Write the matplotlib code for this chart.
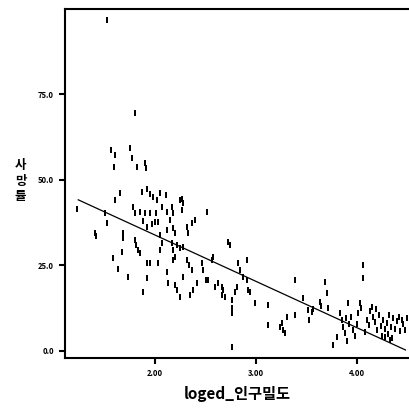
import matplotlib.pyplot as plt
import numpy as np

plt.rcParams['font.family'] = ['Noto Sans CJK KR', 'DejaVu Sans']

# --- dados ---
x_vals = [
    1.52, 1.80, 1.56, 1.60, 1.59, 1.75, 1.77, 1.82, 1.90, 1.91,
    1.65, 1.60, 1.87, 1.92, 1.95, 1.98, 2.02, 2.05, 2.11, 2.27, 2.25, 2.28, 2.27,
    1.225, 1.41, 1.42, 1.52, 1.505, 1.58, 1.63, 1.67, 1.68, 1.68, 1.73, 1.78, 1.80,
    1.81, 1.83, 1.85, 1.80, 1.85, 1.90, 1.95, 2.00, 2.03, 1.97, 1.92, 1.88, 2.01,
    2.07, 2.12, 2.17, 2.18, 2.15, 2.12, 2.18, 2.20, 2.05, 2.07, 2.05, 2.17, 2.18,
    2.22, 2.20, 2.18, 2.25, 2.28, 2.32, 2.33, 2.37, 2.40, 2.51,
    1.92, 1.95, 2.03, 1.92, 1.88, 2.12, 2.13, 2.20, 2.22, 2.25, 2.28, 2.32, 2.34,
    2.37, 2.35, 2.38, 2.42, 2.47, 2.48, 2.50, 2.52, 2.57, 2.56, 2.59, 2.62, 2.66,
    2.67, 2.66, 2.69, 2.72, 2.74, 2.76, 2.76, 2.76, 2.76, 2.81, 2.79, 2.82, 2.84,
    2.87, 2.91, 2.91, 2.92, 2.94, 2.99,
    3.12, 3.12, 3.24, 3.26, 3.27, 3.29, 3.31, 3.39, 3.39, 3.47, 3.51, 3.52, 3.55,
    3.56, 3.63, 3.64, 3.68, 3.70, 3.71, 3.76, 3.83, 3.85, 3.86, 3.88, 3.91, 3.89,
    3.92, 3.94, 3.96, 4.01, 4.03, 4.04, 4.06, 4.06, 4.15, 4.16, 4.12, 4.10, 4.08,
    4.18, 4.20, 4.22, 4.24, 4.26, 4.28, 4.28, 4.30, 4.31, 4.32, 4.34, 4.35, 4.36,
    4.38, 4.40, 4.42, 4.43, 4.45, 4.46, 4.48, 4.50, 4.33, 4.25, 4.00, 3.98, 4.13,
    4.19, 3.80, 3.90,
]
y_vals = [
    96.8, 69.6, 58.8, 57.3, 53.8, 59.4, 56.4, 53.8, 55.0, 53.5,
    46.2, 44.2, 46.5, 47.5, 46.0, 45.0, 44.2, 46.2, 45.6, 44.4, 44.2, 43.3, 41.2,
    41.4, 34.5, 33.5, 37.4, 40.3, 27.2, 24.0, 29.0, 34.5, 33.0, 21.6, 42.1, 32.5,
    31.0, 29.5, 28.6, 40.3, 40.6, 40.3, 40.3, 37.7, 37.7, 37.0, 36.3, 38.0, 40.3,
    42.1, 40.6, 42.1, 40.3, 38.3, 35.4, 36.0, 34.5, 33.9, 31.6, 29.5, 31.6, 29.5,
    31.0, 27.5, 26.6, 30.1, 30.4, 36.3, 34.5, 37.4, 38.3, 40.6,
    25.7, 25.7, 25.7, 21.3, 17.3, 23.1, 19.9, 19.3, 17.8, 15.8, 21.6, 26.6, 25.1,
    23.7, 16.4, 17.8, 19.9, 25.7, 23.7, 20.8, 20.8, 27.5, 26.5, 18.7, 19.9, 18.7,
    17.8, 16.4, 15.8, 31.9, 31.0, 14.9, 12.6, 11.2, 1.2, 18.7, 17.3, 25.7, 23.7,
    21.6, 20.8, 26.6, 17.8, 17.3, 14.0,
    13.5, 7.6, 7.0, 8.2, 6.1, 5.3, 9.9, 20.8, 10.5, 15.5, 12.0, 9.1, 11.4,
    12.2, 14.3, 13.2, 20.2, 17.0, 12.6, 1.8, 11.1, 9.1, 7.0, 5.3, 14.0, 9.5,
    8.0, 9.8, 6.2, 11.1, 14.0, 12.5, 25.1, 21.3, 12.9, 10.0, 7.5, 9.0, 5.5,
    8.5, 6.0, 10.5, 7.2, 9.0, 4.1, 6.5, 8.2, 5.0, 10.5, 7.0, 3.8, 9.5,
    6.5, 8.7, 10.0, 5.8, 9.1, 7.8, 6.1, 9.5, 3.2, 4.5, 8.0, 4.5, 11.8,
    12.3, 4.0, 3.0,
]

# reta de ajuste
fit_x = [1.24, 4.48]
fit_intercept = 61.0
fit_slope = -13.55

y_ticks = [0, 25, 50, 75]
y_tick_labels = ['0.0', '25.0', '50.0', '75.0']
x_ticks = [2, 3, 4]
x_tick_labels = ['2.00', '3.00', '4.00']

fig = plt.figure(figsize=(4.09, 4.19), dpi=100)
ax = fig.add_axes([0.159, 0.1456, 0.8435, 0.833])

# marcador retangular vertical
marcador = [(-0.5, -1), (0.5, -1), (0.5, 1), (-0.5, 1)]
ax.scatter(x_vals, y_vals, s=13, marker=marcador, color='black', linewidths=0)

linha_x = np.array(fit_x)
ax.plot(linha_x, fit_intercept + fit_slope * linha_x, color='black', linewidth=0.9)

ax.set_xlim(1.109, 4.525)
ax.set_ylim(-2.05, 100)

ax.set_xticks(x_ticks)
ax.set_xticklabels(x_tick_labels)
ax.set_yticks(y_ticks)
ax.set_yticklabels(y_tick_labels)
ax.tick_params(axis='both', direction='out', length=4, width=1.5, labelsize=5.5,
               pad=4)
for lbl in ax.get_xticklabels() + ax.get_yticklabels():
    lbl.set_fontweight('bold')

ax.spines['right'].set_visible(False)
for lado in ['left', 'bottom', 'top']:
    ax.spines[lado].set_linewidth(1.5)

ax.set_xlabel('loged_인구밀도', fontsize=11, fontweight='bold', labelpad=6)
fig.text(0.05, 0.568, '사\n망\n률', fontsize=9, fontweight='bold',
         ha='center', va='center', linespacing=1.25)

plt.savefig('out.png', dpi=100)
plt.close()
